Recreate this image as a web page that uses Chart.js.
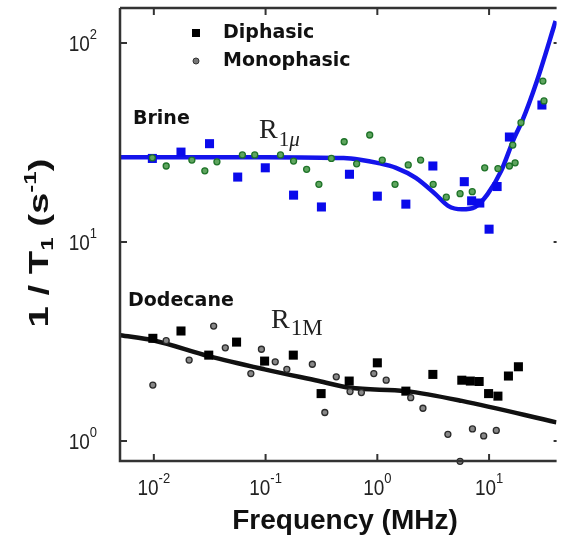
<!DOCTYPE html>
<html>
<head>
<meta charset="utf-8">
<script src="https://cdn.jsdelivr.net/npm/chart.js@4.4.0/dist/chart.umd.min.js"></script>
<style>
  html, body { margin: 0; padding: 0; background: #fff; }
  #wrap { width: 563px; height: 542px; }
</style>
</head>
<body>
<div id="wrap"><canvas id="t1chart" width="563" height="542"></canvas></div>
<script>
// frequency in MHz, relaxation rate 1/T1 in s^-1
const brineDiFreq = [0.0097, 0.0175, 0.0315, 0.0563, 0.0994, 0.178, 0.316, 0.563, 1.0, 1.80, 3.14, 6.0, 6.98, 8.26, 10.0, 11.8, 15.2, 29.7];
const brineDiRate = [26.3, 28.3, 31.2, 21.2, 23.6, 17.2, 15.0, 21.9, 17.0, 15.5, 24.1, 20.1, 16.1, 15.7, 11.6, 19.0, 33.7, 48.8];

const brineMonoFreq = [0.0097, 0.0129, 0.0219, 0.0286, 0.0367, 0.062, 0.080, 0.136, 0.178, 0.233, 0.300, 0.388, 0.505, 0.653, 0.855, 1.107, 1.44, 1.89, 2.44, 3.16, 4.14, 5.50, 7.07, 9.14, 12.0, 15.2, 16.3, 17.1, 19.3, 30.3, 31.0];
const brineMonoRate = [26.5, 24.1, 25.8, 22.8, 25.3, 27.4, 27.4, 27.4, 25.5, 23.2, 19.5, 26.3, 31.9, 24.7, 34.5, 25.8, 19.5, 24.4, 25.8, 19.5, 16.8, 17.5, 17.9, 23.6, 23.4, 24.1, 30.7, 25.0, 39.8, 64.4, 51.2];

const brineFitFreq = [0.005, 0.01, 0.1, 0.5, 0.7, 1.0, 1.47, 2.21, 3.31, 4.3, 5.7, 7.5, 9.7, 12.8, 16.8, 19.8, 26.8, 39.4];
const brineFitRate = [26.7, 26.7, 26.7, 26.4, 25.9, 25.0, 23.6, 21.0, 17.4, 15.2, 14.6, 15.0, 17.4, 22.7, 33.4, 40.6, 64.5, 129];

const dodDiFreq = [0.0098, 0.0175, 0.031, 0.055, 0.098, 0.177, 0.314, 0.56, 1.0, 1.8, 3.14, 5.7, 6.8, 8.15, 9.9, 12.0, 14.9, 18.3];
const dodDiRate = [3.28, 3.57, 2.70, 3.14, 2.52, 2.70, 1.73, 2.0, 2.47, 1.78, 2.16, 2.02, 2.0, 1.99, 1.73, 1.68, 2.12, 2.36];

const dodMonoFreq = [0.0098, 0.0129, 0.0207, 0.0343, 0.0436, 0.0738, 0.0918, 0.122, 0.155, 0.262, 0.339, 0.429, 0.57, 0.72, 0.93, 1.2, 1.99, 2.56, 4.28, 5.5, 7.1, 8.95, 11.6];
const dodMonoRate = [1.91, 3.19, 2.55, 3.78, 2.94, 2.18, 2.89, 2.50, 2.29, 2.43, 1.39, 2.10, 1.77, 1.75, 2.18, 2.02, 1.65, 1.46, 1.08, 0.79, 1.15, 1.06, 1.13];

const dodFitFreq = [0.005, 0.01, 0.031, 0.098, 0.3, 0.57, 1.8, 5.7, 40];
const dodFitRate = [3.4, 3.2, 2.67, 2.29, 2.0, 1.85, 1.78, 1.59, 1.24];

const xTickPow = [-2, -1, 0, 1];
const yTickPow = [0, 1, 2];
const xMin = 0.00498, xMax = 40.2;
const yMin = 0.793, yMax = 150;

const legendLabels = ['Diphasic', 'Monophasic'];

function pts(xs, ys) {
    return xs.map((x, i) => ({ x: x, y: ys[i] }));
}

function stretched(ctx, str, x, y, sx, sy) {
    ctx.save();
    ctx.translate(x, y);
    ctx.scale(sx, sy);
    ctx.fillText(str, 0, 0);
    ctx.restore();
}

const SANS = '"Liberation Sans", Arial, sans-serif';
const DEJA = '"DejaVu Sans", sans-serif';
const SERIF = '"Liberation Serif", "Times New Roman", serif';

function powLabel(ctx, p, x, baseY, align) {
    ctx.font = '19px ' + SANS;
    const w1 = ctx.measureText('10').width;
    ctx.font = '13px ' + SANS;
    const w2 = ctx.measureText(String(p)).width;
    const left = align === 'center' ? x - (w1 + w2) / 2 : x - (w1 + w2);
    ctx.textAlign = 'left';
    ctx.textBaseline = 'alphabetic';
    ctx.font = '19px ' + SANS;
    stretched(ctx, '10', left, baseY, 1, 1.15);
    ctx.font = '13px ' + SANS;
    stretched(ctx, String(p), left + w1, baseY - 12, 1, 1.1);
}

const frameText = {
    id: 'frameText',
    afterDraw(chart) {
        const ctx = chart.ctx;
        const a = chart.chartArea;
        const xs = chart.scales.x, ys = chart.scales.y;
        ctx.save();
        ctx.strokeStyle = '#333';
        ctx.lineWidth = 2.5;
        ctx.beginPath();
        ctx.moveTo(a.left, a.top); ctx.lineTo(a.left, a.bottom); ctx.lineTo(a.right, a.bottom);
        ctx.moveTo(a.left, a.top); ctx.lineTo(a.right, a.top);
        ctx.stroke();

        ctx.lineWidth = 2;
        ctx.beginPath();
        xTickPow.forEach(p => {
            const px = xs.getPixelForValue(Math.pow(10, p));
            ctx.moveTo(px, a.bottom); ctx.lineTo(px, a.bottom - 7);
            ctx.moveTo(px, a.top); ctx.lineTo(px, a.top + 7);
        });
        yTickPow.forEach(p => {
            const py = ys.getPixelForValue(Math.pow(10, p));
            ctx.moveTo(a.left, py); ctx.lineTo(a.left + 7, py);
            ctx.moveTo(a.right, py); ctx.lineTo(a.right - 3, py);
        });
        ctx.stroke();

        // tick labels
        ctx.fillStyle = '#222';
        xTickPow.forEach(p => powLabel(ctx, p, xs.getPixelForValue(Math.pow(10, p)), a.bottom + 34, 'center'));
        yTickPow.forEach(p => powLabel(ctx, p, 97, ys.getPixelForValue(Math.pow(10, p)) + 8, 'right'));

        // x title
        ctx.fillStyle = '#111';
        ctx.font = 'bold 28px ' + SANS;
        ctx.textAlign = 'center';
        ctx.textBaseline = 'alphabetic';
        ctx.fillText('Frequency (MHz)', 345, 529);

        // y title: 1 / T1 (s-1)
        const parts = [
            { t: '1 / T', f: 'bold 27px ' + SANS, dy: 0 },
            { t: '1', f: 'bold 17px ' + SANS, dy: 5 },
            { t: ' (s', f: 'bold 27px ' + SANS, dy: 0 },
            { t: '-1', f: 'bold 17px ' + SANS, dy: -12 },
            { t: ')', f: 'bold 27px ' + SANS, dy: 0 }
        ];
        let total = 0;
        parts.forEach(pt => { ctx.font = pt.f; pt.w = ctx.measureText(pt.t).width; total += pt.w; });
        ctx.save();
        ctx.translate(48, 243);
        ctx.rotate(-Math.PI / 2);
        ctx.scale(1.42, 1);
        ctx.textAlign = 'left';
        let cx = -total / 2;
        parts.forEach(pt => { ctx.font = pt.f; ctx.fillText(pt.t, cx, pt.dy); cx += pt.w; });
        ctx.restore();

        // legend
        ctx.fillStyle = '#000';
        ctx.fillRect(192, 29, 8, 8);
        ctx.beginPath();
        ctx.arc(196, 61, 3, 0, Math.PI * 2);
        ctx.fillStyle = '#777';
        ctx.fill();
        ctx.strokeStyle = '#333';
        ctx.lineWidth = 1;
        ctx.stroke();
        ctx.fillStyle = '#111';
        ctx.font = 'bold 19px ' + DEJA;
        ctx.textAlign = 'left';
        ctx.textBaseline = 'middle';
        ctx.fillText(legendLabels[0], 223, 33);
        ctx.fillText(legendLabels[1], 223, 61);

        // annotations
        ctx.textBaseline = 'alphabetic';
        ctx.fillText('Brine', 133, 124);
        ctx.fillText('Dodecane', 128, 306);

        ctx.fillStyle = '#222';
        ctx.font = '28px ' + SERIF;
        ctx.fillText('R', 259, 138);
        let rw = ctx.measureText('R').width;
        ctx.font = '21px ' + SERIF;
        ctx.fillText('1', 259 + rw + 1, 146);
        let ow = ctx.measureText('1').width;
        ctx.font = 'italic 21px ' + SERIF;
        ctx.fillText('\u03bc', 259 + rw + 1 + ow, 146);

        ctx.font = '28px ' + SERIF;
        ctx.fillText('R', 271, 328);
        rw = ctx.measureText('R').width;
        ctx.font = '23px ' + SERIF;
        ctx.fillText('1M', 271 + rw + 1, 335);
        ctx.restore();
    }
};

const ctx = document.getElementById('t1chart').getContext('2d');
new Chart(ctx, {
    type: 'scatter',
    data: {
        datasets: [
            {
                label: 'Brine diphasic',
                data: pts(brineDiFreq, brineDiRate),
                pointStyle: 'rect', pointRadius: 6.4,
                backgroundColor: 'rgb(10,10,235)', borderColor: 'rgb(10,10,235)', borderWidth: 0,
                clip: false, order: 1
            },
            {
                label: 'Brine monophasic',
                data: pts(brineMonoFreq, brineMonoRate),
                pointStyle: 'circle', pointRadius: 3,
                backgroundColor: 'rgb(95,165,95)', borderColor: 'rgb(30,115,40)', borderWidth: 1.3,
                clip: false, order: 0
            },
            {
                label: 'Dodecane diphasic',
                data: pts(dodDiFreq, dodDiRate),
                pointStyle: 'rect', pointRadius: 6.4,
                backgroundColor: '#000', borderColor: '#000', borderWidth: 0,
                clip: false, order: 1
            },
            {
                label: 'Dodecane monophasic',
                data: pts(dodMonoFreq, dodMonoRate),
                pointStyle: 'circle', pointRadius: 3,
                backgroundColor: '#888', borderColor: '#2a2a2a', borderWidth: 1.3,
                clip: false, order: 0
            },
            {
                label: 'R1mu',
                data: pts(brineFitFreq, brineFitRate),
                showLine: true, pointRadius: 0, borderWidth: 4.5,
                borderColor: 'rgb(20,20,235)', cubicInterpolationMode: 'monotone',
                order: 2
            },
            {
                label: 'R1M',
                data: pts(dodFitFreq, dodFitRate),
                showLine: true, pointRadius: 0, borderWidth: 4.5,
                borderColor: '#111', cubicInterpolationMode: 'monotone',
                order: 2
            }
        ]
    },
    options: {
        responsive: false,
        animation: false,
        devicePixelRatio: 1,
        layout: { padding: { left: 120, top: 8, right: 0, bottom: 81 } },
        plugins: { legend: { display: false }, tooltip: { enabled: false } },
        scales: {
            x: { type: 'logarithmic', min: xMin, max: xMax, display: false },
            y: { type: 'logarithmic', min: yMin, max: yMax, display: false }
        }
    },
    plugins: [frameText]
});
</script>
</body>
</html>
